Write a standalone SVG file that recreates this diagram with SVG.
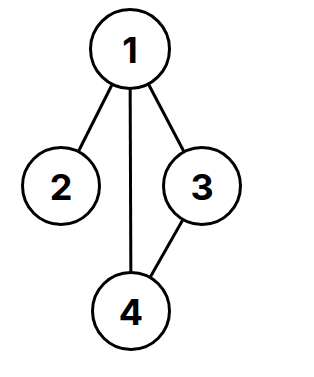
<svg xmlns="http://www.w3.org/2000/svg" width="314" height="377" viewBox="0 0 314 377">
<style>
.n{fill:#fff;stroke:#000;stroke-width:3}
.t{font-family:Inter,"Liberation Sans",sans-serif;font-weight:700;font-size:36px;text-anchor:middle;dominant-baseline:central;fill:#000}
.e{stroke:#000;stroke-width:3;fill:none}
</style>
<rect width="314" height="377" fill="#fff"/>
<g id="edges">
<line class="e" x1="130" y1="49" x2="61" y2="186"/>
<line class="e" x1="130" y1="49" x2="202" y2="186"/>
<line class="e" x1="130" y1="49" x2="131" y2="311"/>
<line class="e" x1="202" y1="186" x2="131" y2="311"/>
</g>
<g id="n1"><circle class="n" cx="130" cy="49" r="39.5"/><text class="t" x="130" y="50">1</text></g>
<g id="n2"><circle class="n" cx="61" cy="186" r="38.5"/><text class="t" x="61" y="187">2</text></g>
<g id="n3"><circle class="n" cx="202" cy="186" r="38.5"/><text class="t" x="202" y="187">3</text></g>
<g id="n4"><circle class="n" cx="131" cy="311" r="38.5"/><text class="t" x="131" y="312">4</text></g>
</svg>
